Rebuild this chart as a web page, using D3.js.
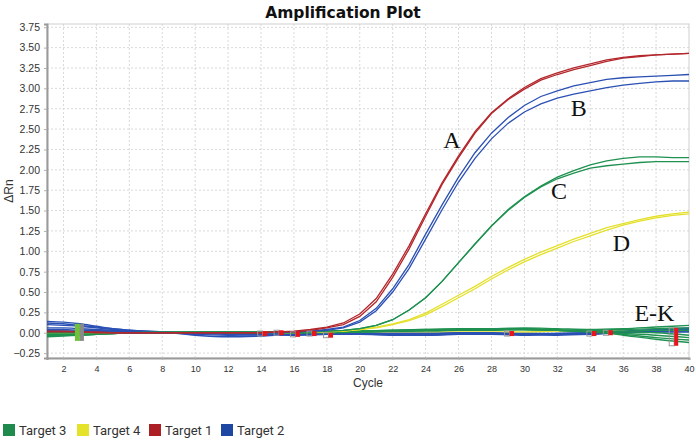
<!DOCTYPE html>
<html><head><meta charset="utf-8">
<script src="https://cdn.jsdelivr.net/npm/d3@7"></script>
<style>body{margin:0;background:#fff}svg{display:block}</style>
</head><body><svg id="c" width="696" height="440"></svg>
<script>
// ---------- data ----------
const cycles = d3.range(1, 41);
const xTicks = [2,4,6,8,10,12,14,16,18,20,22,24,26,28,30,32,34,36,38,40];
const yTicks = [-0.25,0,0.25,0.5,0.75,1,1.25,1.5,1.75,2,2.25,2.5,2.75,3,3.25,3.5,3.75];

// Target 1 (A)
const redA1 = [0.02,0.02,0.01,0.01,0.00,0.00,0.00,0.00,0.00,0.00,0.00,0.00,0.00,0.00,0.01,0.02,0.04,0.07,0.12,0.23,0.42,0.72,1.07,1.46,1.84,2.17,2.47,2.70,2.87,3.01,3.12,3.19,3.25,3.30,3.35,3.38,3.40,3.41,3.42,3.43];
const redA2 = [0.01,0.01,0.01,0.00,0.00,0.00,0.00,0.00,0.00,0.00,0.00,0.00,0.00,0.00,0.01,0.01,0.03,0.06,0.10,0.20,0.38,0.68,1.03,1.43,1.82,2.15,2.45,2.69,2.86,2.99,3.10,3.17,3.23,3.28,3.33,3.37,3.39,3.41,3.42,3.43];
// Target 2 (B)
const blueB1 = [0.03,0.02,0.02,0.01,0.01,0.00,0.00,0.00,0.00,-0.01,-0.01,0.00,0.00,0.00,0.00,0.01,0.02,0.04,0.07,0.15,0.30,0.54,0.84,1.21,1.57,1.91,2.21,2.45,2.64,2.79,2.90,2.97,3.03,3.07,3.11,3.13,3.14,3.15,3.16,3.17];
const blueB2 = [0.02,0.02,0.01,0.01,0.00,0.00,0.00,0.00,0.00,-0.01,-0.01,0.00,0.00,0.00,0.00,0.01,0.02,0.03,0.06,0.13,0.27,0.50,0.79,1.15,1.51,1.85,2.14,2.38,2.57,2.71,2.81,2.88,2.93,2.97,3.01,3.04,3.06,3.08,3.09,3.09];
// Target 3 (C)
const greenC1 = [0.00,0.00,0.00,0.00,0.00,0.00,0.00,0.00,0.00,0.00,0.00,0.00,0.00,0.00,0.00,0.00,0.01,0.02,0.03,0.05,0.09,0.16,0.28,0.43,0.63,0.86,1.09,1.31,1.51,1.67,1.80,1.91,1.99,2.06,2.11,2.14,2.16,2.16,2.15,2.15];
const greenC2 = [0.00,0.00,0.00,0.00,0.00,0.00,0.00,0.00,0.00,0.00,0.00,0.00,0.00,0.00,0.00,0.00,0.01,0.02,0.03,0.05,0.09,0.16,0.28,0.43,0.63,0.86,1.09,1.31,1.50,1.66,1.79,1.89,1.96,2.02,2.05,2.07,2.09,2.10,2.10,2.10];
// Target 4 (D)
const yellowD1 = [0.00,0.00,0.00,0.00,0.00,0.00,0.00,0.00,0.00,0.00,0.00,0.00,0.00,0.00,0.00,0.00,0.01,0.01,0.02,0.04,0.07,0.11,0.16,0.24,0.35,0.46,0.57,0.69,0.80,0.90,0.99,1.07,1.15,1.22,1.29,1.34,1.39,1.43,1.46,1.48];
const yellowD2 = [0.00,0.00,0.00,0.00,0.00,0.00,0.00,0.00,0.00,0.00,0.00,0.00,0.00,0.00,0.00,0.00,0.01,0.01,0.02,0.04,0.06,0.10,0.15,0.22,0.32,0.43,0.54,0.66,0.77,0.87,0.96,1.04,1.12,1.19,1.26,1.32,1.37,1.41,1.44,1.46];

// Negative samples (E-K), sampled at these cycles
const negCycles = [1,2,3,4,5,6,8,10,12,14,16,18,20,22,24,26,28,30,32,34,36,38,40];
const blueNeg = [
 [0.14,0.13,0.11,0.08,0.05,0.03,0.01,-0.02,-0.03,-0.02,-0.01,-0.01,-0.01,-0.02,-0.02,-0.01,-0.01,-0.02,-0.02,-0.01,0.00,0.02,0.04],
 [0.12,0.11,0.09,0.07,0.05,0.03,0.01,-0.03,-0.05,-0.04,-0.02,-0.02,-0.02,-0.03,-0.03,-0.02,-0.02,-0.02,-0.03,-0.02,0.00,0.02,0.03],
 [0.10,0.09,0.08,0.06,0.04,0.02,0.01,0.00,-0.01,-0.01,0.00,-0.01,-0.01,-0.01,-0.01,0.00,0.00,-0.01,-0.01,0.00,0.02,0.04,0.06],
 [0.06,0.06,0.05,0.04,0.03,0.02,0.01,0.00,-0.02,-0.03,-0.02,-0.01,-0.02,-0.02,-0.02,-0.01,-0.01,-0.02,-0.01,0.00,0.01,0.03,0.05],
 [0.04,0.04,0.03,0.03,0.02,0.01,0.00,-0.01,-0.01,-0.01,0.00,0.00,-0.01,-0.02,-0.03,-0.02,-0.02,-0.03,-0.02,-0.01,0.01,0.02,0.02],
 [0.02,0.02,0.02,0.01,0.01,0.01,0.00,0.00,-0.01,-0.02,-0.03,-0.02,-0.01,-0.01,-0.01,-0.01,-0.02,-0.02,-0.02,-0.01,0.00,0.01,0.01]
];
const greenNeg = [
 [-0.05,-0.04,-0.03,-0.02,-0.01,0.00,0.01,0.01,0.01,0.01,0.00,0.01,0.02,0.03,0.04,0.05,0.05,0.04,0.03,0.02,-0.03,-0.08,-0.12],
 [-0.04,-0.03,-0.03,-0.02,-0.01,0.00,0.00,0.01,0.01,0.00,0.00,0.01,0.02,0.03,0.04,0.04,0.05,0.05,0.03,0.01,-0.02,-0.06,-0.09],
 [-0.03,-0.02,-0.02,-0.01,-0.01,0.00,0.00,0.00,0.00,0.00,0.00,0.00,0.01,0.02,0.03,0.04,0.04,0.05,0.03,0.01,-0.01,-0.03,-0.06],
 [-0.02,-0.02,-0.01,-0.01,0.00,0.00,0.00,0.00,0.00,0.00,0.01,0.01,0.02,0.02,0.03,0.03,0.04,0.04,0.03,0.02,0.01,0.00,-0.03],
 [-0.01,-0.01,-0.01,0.00,0.00,0.00,0.00,0.00,0.01,0.01,0.01,0.01,0.01,0.02,0.02,0.03,0.03,0.04,0.03,0.02,0.02,0.03,0.03],
 [0.00,0.00,0.00,0.00,0.00,0.00,0.00,0.01,0.01,0.01,0.01,0.01,0.02,0.02,0.03,0.03,0.04,0.04,0.03,0.03,0.04,0.05,0.06],
 [-0.03,-0.03,-0.02,-0.01,-0.01,0.00,0.00,0.00,0.00,0.00,0.01,0.01,0.01,0.02,0.03,0.04,0.05,0.06,0.05,0.04,0.05,0.07,0.09]
];
const yellowNeg = [
 [-0.03,-0.03,-0.02,-0.01,0.00,0.00,0.01,0.01,0.01,0.01,0.01,0.01,0.01,0.01,0.01,0.01,0.01,0.01,0.02,0.02,0.02,0.02,0.02]
];

// baseline markers (cycle, value)
const markerCycles = [14.1,15.1,16.1,17.1,18.1,29.1,34.1,35.1];
const markerValues = [-0.01,0.00,-0.02,-0.01,-0.03,-0.01,-0.01,0.00];
const startBar = {cycle: 3, lo: -0.10, hi: 0.11};
const endBar = {cycle: 39.1, lo: -0.16, hi: 0.06};

const labels = ["A","B","C","D","E-K"];
const labelCycles = [25.6, 33.3, 32.1, 35.9, 37.9];
const labelValues = [2.37, 2.76, 1.75, 1.11, 0.25];

const legendNames = ["Target 3","Target 4","Target 1","Target 2"];
const legendColors = ["#1e8a4c","#e5e22a","#ab1f25","#1d47a3"];

// ---------- drawing ----------
const W = 696, H = 440;
const m = {l: 47, r: 7, t: 24, b: 82};
const svg = d3.select("#c");
const x = d3.scaleLinear([1, 40], [m.l, W - m.r]);
const y = d3.scaleLinear([-0.31, 3.79], [H - m.b, m.t]);

const col = {red: "#b3262b", blue: "#2a50b4", green: "#1f9150", yellow: "#e4e02c"};

svg.append("text").attr("x", 343).attr("y", 18).attr("text-anchor", "middle")
  .attr("font-family", "DejaVu Sans").attr("font-weight", "bold").attr("font-size", 15.5)
  .attr("fill", "#111").text("Amplification Plot");

// grid
const g = svg.append("g");
g.selectAll(".gy").data(yTicks).join("line")
  .attr("x1", m.l).attr("x2", W - m.r).attr("y1", d => y(d)).attr("y2", d => y(d))
  .attr("stroke", "#d9d9d9").attr("stroke-dasharray", "2,2");
g.selectAll(".gx").data(xTicks.filter(d => d < 40)).join("line")
  .attr("y1", m.t).attr("y2", H - m.b).attr("x1", d => x(d)).attr("x2", d => x(d))
  .attr("stroke", "#d9d9d9").attr("stroke-dasharray", "2,2");
// frame
svg.append("rect").attr("x", m.l).attr("y", m.t).attr("width", W - m.r - m.l).attr("height", H - m.b - m.t)
  .attr("fill", "none").attr("stroke", "#cfcfcf");

// axes
const yAxis = svg.append("g").attr("transform", `translate(${m.l},0)`)
  .call(d3.axisLeft(y).tickValues(yTicks).tickFormat(d3.format(".2f")).tickSize(3).tickPadding(4));
const xAxis = svg.append("g").attr("transform", `translate(0,${H - m.b})`)
  .call(d3.axisBottom(x).tickValues(xTicks).tickFormat(d3.format("d")).tickSize(2).tickPadding(6));
[yAxis, xAxis].forEach(a => {
  a.select(".domain").attr("stroke", "#9a9a9a").attr("stroke-width", 2);
  a.selectAll(".tick line").attr("stroke", "#b0b0b0");
  a.selectAll("text").attr("font-family", "Liberation Sans, Arial").attr("fill", "#333");
});
yAxis.selectAll("text").attr("font-size", 10.5);
xAxis.selectAll("text").attr("font-size", 9);

svg.append("text").attr("transform", `translate(13,${(m.t + H - m.b) / 2}) rotate(-90)`)
  .attr("text-anchor", "middle").attr("font-family", "Liberation Sans, Arial").attr("font-size", 12)
  .attr("fill", "#333").text("ΔRn");
svg.append("text").attr("x", (m.l + W - m.r) / 2).attr("y", 387).attr("text-anchor", "middle")
  .attr("font-family", "Liberation Sans, Arial").attr("font-size", 12).attr("fill", "#333").text("Cycle");

// curves
const plot = svg.append("g");
const lineFull = d3.line().x((d, i) => x(cycles[i])).y(d => y(d));
const lineNeg = d3.line().x((d, i) => x(negCycles[i])).y(d => y(d)).curve(d3.curveMonotoneX);
function draw(arr, gen, c, w) {
  plot.append("path").datum(arr).attr("d", gen).attr("fill", "none").attr("stroke", c).attr("stroke-width", w);
}
yellowNeg.forEach(a => draw(a, lineNeg, col.yellow, 1.4));
blueNeg.forEach(a => draw(a, lineNeg, col.blue, 1.4));
greenNeg.forEach(a => draw(a, lineNeg, col.green, 1.4));
[yellowD1, yellowD2].forEach(a => draw(a, lineFull, col.yellow, 1.3));
[greenC1, greenC2].forEach(a => draw(a, lineFull, col.green, 1.3));
[blueB1, blueB2].forEach(a => draw(a, lineFull, col.blue, 1.3));
[redA1, redA2].forEach(a => draw(a, lineFull, col.red, 1.3));

// markers
markerCycles.forEach((c, i) => {
  const cx = x(c), cy = y(markerValues[i]);
  plot.append("rect").attr("x", cx - 5).attr("y", cy - 2.5).attr("width", 5).attr("height", 5)
    .attr("fill", "none").attr("stroke", "#999");
  plot.append("rect").attr("x", cx).attr("y", cy - 2.5).attr("width", 4.5).attr("height", 5).attr("fill", "#e8141c");
});
plot.append("rect").attr("x", x(startBar.cycle) - 5).attr("y", y(startBar.hi)).attr("width", 5)
  .attr("height", y(startBar.lo) - y(startBar.hi)).attr("fill", "#6fc03a");
plot.append("rect").attr("x", x(startBar.cycle)).attr("y", y(startBar.hi)).attr("width", 4)
  .attr("height", y(startBar.lo) - y(startBar.hi)).attr("fill", "#8a8a8a");
plot.append("rect").attr("x", x(endBar.cycle) - 5).attr("y", y(endBar.hi)).attr("width", 5)
  .attr("height", y(endBar.lo) - y(endBar.hi)).attr("fill", "none").attr("stroke", "#999");
plot.append("rect").attr("x", x(endBar.cycle)).attr("y", y(endBar.hi)).attr("width", 4)
  .attr("height", y(endBar.lo) - y(endBar.hi)).attr("fill", "#e8141c");

// annotations
labels.forEach((t, i) => {
  svg.append("text").attr("x", x(labelCycles[i])).attr("y", y(labelValues[i])).attr("dy", "0.35em")
    .attr("text-anchor", "middle").attr("font-family", "Liberation Serif, Times New Roman")
    .attr("font-size", 24).attr("fill", "#111").text(t);
});

// legend
const lg = svg.append("g");
const legendX = [3, 77, 149, 221];
legendNames.forEach((n, i) => {
  lg.append("rect").attr("x", legendX[i]).attr("y", 424).attr("width", 12).attr("height", 12).attr("fill", legendColors[i]);
  lg.append("text").attr("x", legendX[i] + 16).attr("y", 435).attr("font-family", "Roboto")
    .attr("font-size", 13).attr("fill", "#333").text(n);
});
</script></body></html>
